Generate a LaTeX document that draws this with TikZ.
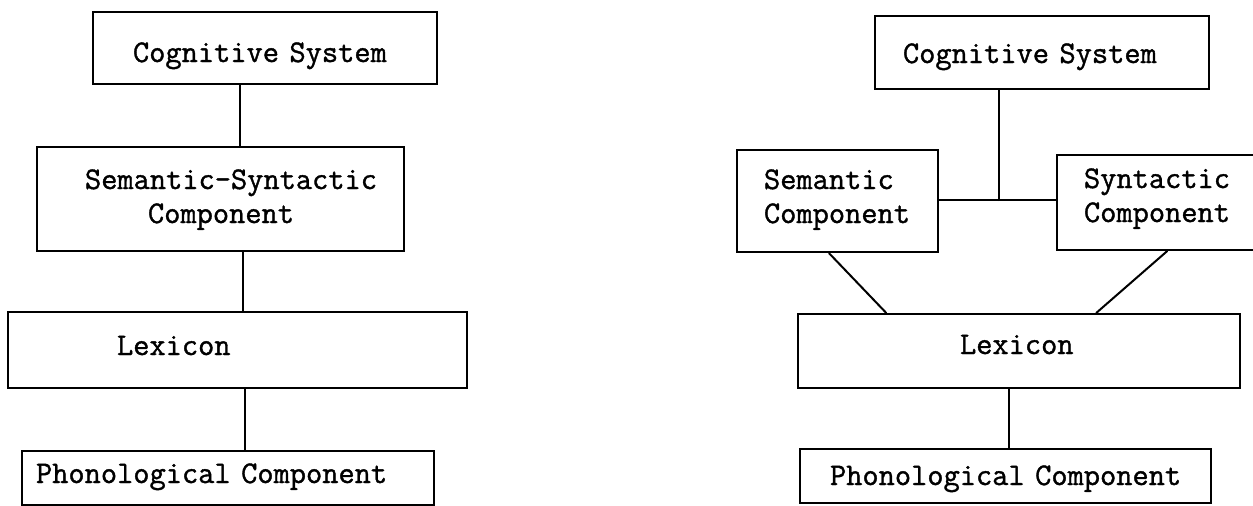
\documentclass[tikz,border=0pt]{standalone}
\usepackage{fontspec}
\usetikzlibrary{calc}
% typewriter face, slightly heavier as on a ribbon typewriter
\newfontfamily\typewriter[FakeBold=1.2]{Latin Modern Mono}
% monospaced text: an inter-word space is one character cell wide
\newcommand\boxfont{\fontsize{31.5}{34}\selectfont\typewriter
  \spaceskip=\fontcharwd\font`\M\relax}
\begin{document}
\begin{tikzpicture}[x=1pt,y=-1pt,
  box/.style={draw, line width=2.2pt, inner ysep=0pt, align=left, font=\boxfont},
  link/.style={line width=2pt, line cap=round}]
\useasboundingbox (0,0) rectangle (1253,506);

% ---- left: single semantic-syntactic component ----
\node[box, minimum width=344pt, minimum height=72pt, inner xsep=40pt,
  text width=264pt, text height=28pt, text depth=0pt]
  (lcog) at (265,48) {\mbox{Cognitive System}};
\node[box, minimum width=367pt, minimum height=104pt, inner xsep=48pt,
  text width=271pt, text height=0pt, text depth=20pt]
  (lsem) at (220.5,199) {\mbox{Semantic-Syntactic}\\\hspace*{2em}Component};
\node[box, minimum width=459pt, minimum height=76pt, inner xsep=109pt,
  text width=241pt, text height=10pt, text depth=0pt]
  (llex) at (237.5,350) {Lexicon};
\node[box, minimum width=412pt, minimum height=54pt, inner xsep=14pt,
  text width=384pt, text height=10pt, text depth=0pt]
  (lphon) at (228,478) {\mbox{Phonological Component}};

\coordinate (la) at (240,0);
\coordinate (lb) at (243,0);
\coordinate (lc) at (245,0);
\draw[link] (lcog.south -| la) -- (lsem.north -| la);
\draw[link] (lsem.south -| lb) -- (llex.north -| lb);
\draw[link] (llex.south -| lc) -- (lphon.north -| lc);

% ---- right: separate semantic and syntactic components ----
\node[box, minimum width=334pt, minimum height=73pt, inner xsep=28pt,
  text width=278pt, text height=21pt, text depth=0pt]
  (rcog) at (1042,52.5) {\mbox{Cognitive System}};
\node[box, minimum width=201pt, minimum height=102pt, inner xsep=27pt,
  text width=147pt, text height=0pt, text depth=24pt]
  (rsem) at (837.5,201) {Semantic\\Component};
\node[box, minimum width=205pt, minimum height=95pt, inner xsep=27pt,
  text width=151pt, text height=0pt, text depth=29pt]
  (rsyn) at (1159.5,202.5) {Syntactic\\Component};
\node[box, minimum width=442pt, minimum height=74pt, inner xsep=162pt,
  text width=118pt, text height=6pt, text depth=0pt]
  (rlex) at (1019,351) {Lexicon};
\node[box, minimum width=411pt, minimum height=54pt, inner xsep=30pt,
  text width=351pt, text height=18pt, text depth=0pt]
  (rphon) at (1005.5,476) {\mbox{Phonological Component}};

\coordinate (rj) at (999,200);
\coordinate (rd) at (1009,0);
\draw[link] (rcog.south -| rj) -- (rj);
\draw[link] (rsem.east |- rj) -- (rsyn.west |- rj);
\draw[link] ($(rsem.south west)!0.458!(rsem.south east)$)
  -- ($(rlex.north west)!0.201!(rlex.north east)$);
\draw[link] ($(rsyn.south west)!0.537!(rsyn.south east)$)
  -- ($(rlex.north west)!0.674!(rlex.north east)$);
\draw[link] (rlex.south -| rd) -- (rphon.north -| rd);
\end{tikzpicture}
\end{document}
